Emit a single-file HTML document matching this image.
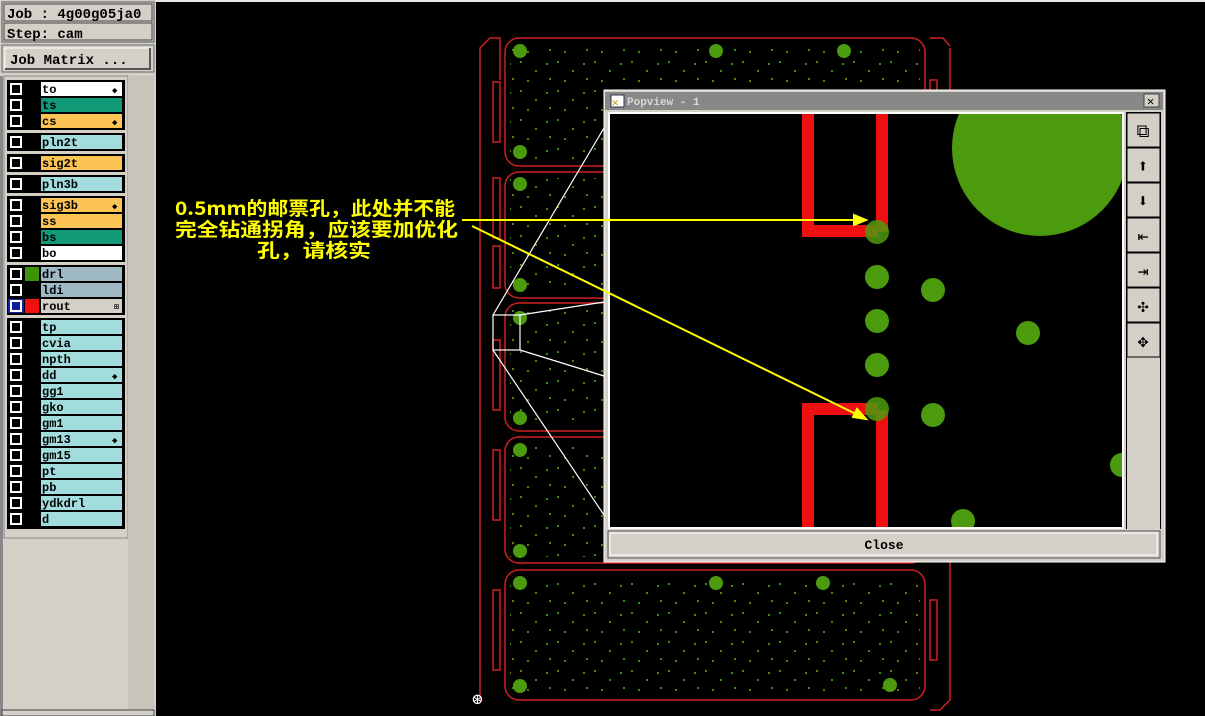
<!DOCTYPE html>
<html><head><meta charset="utf-8"><style>
html,body{margin:0;padding:0;background:#000;}
body{width:1205px;height:716px;overflow:hidden;position:relative;font-family:"Liberation Mono",monospace;}
svg{position:absolute;left:0;top:0}
</style></head><body>
<svg width="1205" height="716" xmlns="http://www.w3.org/2000/svg" font-family="Liberation Mono, monospace">
<defs>
<pattern id="dots" width="37" height="29" patternUnits="userSpaceOnUse">
<rect x="2" y="3" width="2" height="2" fill="#3f8a0a"/>
<rect x="17" y="12" width="2" height="2" fill="#3f8a0a"/>
<rect x="9" y="22" width="2" height="2" fill="#3f8a0a"/>
<rect x="28" y="5" width="2" height="2" fill="#3f8a0a"/>
<rect x="31" y="20" width="2" height="2" fill="#3f8a0a"/>
</pattern>
</defs>
<rect width="1205" height="716" fill="#000"/>
<rect x="0" y="0" width="1205" height="2" fill="#e8e8e8"/>
<!-- left panel -->
<rect x="0" y="0" width="156" height="716" fill="#d4d0c8"/>
<rect x="2" y="2" width="152" height="40" fill="#d4d0c8" stroke="#555" />
<rect x="4" y="4" width="148" height="17" fill="#d4d0c8" stroke="#444"/>
<text x="7" y="18" font-size="14" font-weight="bold" fill="#000">Job : 4g00g05ja0</text>
<rect x="4" y="23" width="148" height="17" fill="#d4d0c8" stroke="#444"/>
<text x="7" y="38" font-size="14" font-weight="bold" fill="#000">Step: cam</text>
<rect x="2" y="45" width="152" height="27" fill="#d4d0c8" stroke="#666"/>
<rect x="5" y="48" width="145" height="21" fill="#d4d0c8" stroke="#fff"/>
<path d="M150 48 V69 H5" stroke="#555" stroke-width="2" fill="none"/>
<text x="10" y="64" font-size="14" font-weight="bold">Job Matrix ...</text>
<rect x="4" y="76" width="124" height="462" fill="#d4d0c8" stroke="#888"/>
<rect x="128" y="76" width="26" height="640" fill="#c8c4bc"/>
<rect x="0" y="76" width="3" height="640" fill="#888"/>
<rect x="2" y="710" width="152" height="6" fill="#d4d0c8" stroke="#444"/>
<g>
<rect x="7" y="80" width="118" height="50" fill="#000"/>
<rect x="7" y="133" width="118" height="18" fill="#000"/>
<rect x="7" y="154" width="118" height="18" fill="#000"/>
<rect x="7" y="175" width="118" height="18" fill="#000"/>
<rect x="7" y="196" width="118" height="66" fill="#000"/>
<rect x="7" y="265" width="118" height="50" fill="#000"/>
<rect x="7" y="318" width="118" height="211" fill="#000"/>
</g>
<g font-size="12" font-weight="bold">
<rect x="41" y="82" width="81" height="14" fill="#fff"/>
<rect x="41" y="98" width="81" height="14" fill="#129a78"/>
<rect x="41" y="114" width="81" height="14" fill="#fcc454"/>
<rect x="41" y="135" width="81" height="14" fill="#a3dcdc"/>
<rect x="41" y="156" width="81" height="14" fill="#fcc454"/>
<rect x="41" y="177" width="81" height="14" fill="#a3dcdc"/>
<rect x="41" y="198" width="81" height="14" fill="#fcc454"/>
<rect x="41" y="214" width="81" height="14" fill="#fcc454"/>
<rect x="41" y="230" width="81" height="14" fill="#129a78"/>
<rect x="41" y="246" width="81" height="14" fill="#fff"/>
<rect x="41" y="267" width="81" height="14" fill="#9eb8c4"/>
<rect x="41" y="283" width="81" height="14" fill="#9eb8c4"/>
<rect x="41" y="299" width="81" height="14" fill="#d4d0c8"/>
<rect x="25" y="267" width="14" height="14" fill="#3c960a"/>
<rect x="25" y="299" width="14" height="14" fill="#f01010"/>
<rect x="8" y="299" width="16" height="14" fill="#1020a0"/>
<g fill="#a3dcdc">
<rect x="41" y="320" width="81" height="14"/><rect x="41" y="336" width="81" height="14"/><rect x="41" y="352" width="81" height="14"/><rect x="41" y="368" width="81" height="14"/><rect x="41" y="384" width="81" height="14"/><rect x="41" y="400" width="81" height="14"/><rect x="41" y="416" width="81" height="14"/><rect x="41" y="432" width="81" height="14"/><rect x="41" y="448" width="81" height="14"/><rect x="41" y="464" width="81" height="14"/><rect x="41" y="480" width="81" height="14"/><rect x="41" y="496" width="81" height="14"/><rect x="41" y="512" width="81" height="14"/>
</g>
<g fill="none" stroke="#fff" stroke-width="2">
<rect x="11" y="84" width="10" height="10"/><rect x="11" y="100" width="10" height="10"/><rect x="11" y="116" width="10" height="10"/>
<rect x="11" y="137" width="10" height="10"/><rect x="11" y="158" width="10" height="10"/><rect x="11" y="179" width="10" height="10"/>
<rect x="11" y="200" width="10" height="10"/><rect x="11" y="216" width="10" height="10"/><rect x="11" y="232" width="10" height="10"/><rect x="11" y="248" width="10" height="10"/>
<rect x="11" y="269" width="10" height="10"/><rect x="11" y="285" width="10" height="10"/><rect x="11" y="301" width="10" height="10"/>
<rect x="11" y="322" width="10" height="10"/><rect x="11" y="338" width="10" height="10"/><rect x="11" y="354" width="10" height="10"/><rect x="11" y="370" width="10" height="10"/><rect x="11" y="386" width="10" height="10"/><rect x="11" y="402" width="10" height="10"/><rect x="11" y="418" width="10" height="10"/><rect x="11" y="434" width="10" height="10"/><rect x="11" y="450" width="10" height="10"/><rect x="11" y="466" width="10" height="10"/><rect x="11" y="482" width="10" height="10"/><rect x="11" y="498" width="10" height="10"/><rect x="11" y="514" width="10" height="10"/>
</g>
<g fill="#000">
<text x="42" y="93">to</text><text x="42" y="109">ts</text><text x="42" y="125">cs</text>
<text x="42" y="146">pln2t</text><text x="42" y="167">sig2t</text><text x="42" y="188">pln3b</text>
<text x="42" y="209">sig3b</text><text x="42" y="225">ss</text><text x="42" y="241">bs</text><text x="42" y="257">bo</text>
<text x="42" y="278">drl</text><text x="42" y="294">ldi</text><text x="42" y="310">rout</text>
<text x="42" y="331">tp</text><text x="42" y="347">cvia</text><text x="42" y="363">npth</text><text x="42" y="379">dd</text><text x="42" y="395">gg1</text><text x="42" y="411">gko</text><text x="42" y="427">gm1</text><text x="42" y="443">gm13</text><text x="42" y="459">gm15</text><text x="42" y="475">pt</text><text x="42" y="491">pb</text><text x="42" y="507">ydkdrl</text><text x="42" y="523">d</text>
<text x="112" y="93" font-size="9">◆</text><text x="112" y="125" font-size="9">◆</text><text x="112" y="209" font-size="9">◆</text><text x="112" y="379" font-size="9">◆</text><text x="112" y="443" font-size="9">◆</text>
<text x="114" y="309" font-size="8">⊞</text>
</g>
</g>

<!-- PCB panel -->
<g fill="none" stroke="#d02020" stroke-width="1.5">
<path d="M480 700 V48 L490 38 H500 V80"/>
<path d="M950 48 V700 L940 710 H930"/>
<path d="M930 38 H943 L950 46"/>
<rect x="505" y="38" width="420" height="128" rx="14"/>
<rect x="505" y="172" width="420" height="126" rx="14"/>
<rect x="505" y="303" width="420" height="128" rx="14"/>
<rect x="505" y="437" width="420" height="126" rx="14"/>
<rect x="505" y="570" width="420" height="130" rx="14"/>
<rect x="493" y="82" width="7" height="60"/><rect x="493" y="178" width="7" height="60"/><rect x="493" y="246" width="7" height="42"/>
<rect x="493" y="340" width="7" height="70"/><rect x="493" y="450" width="7" height="70"/><rect x="493" y="590" width="7" height="80"/>
<rect x="930" y="80" width="7" height="60"/><rect x="930" y="600" width="7" height="60"/>
</g>
<g fill="url(#dots)">
<rect x="510" y="44" width="410" height="116"/><rect x="510" y="178" width="410" height="114"/><rect x="510" y="309" width="410" height="116"/><rect x="510" y="443" width="410" height="114"/><rect x="510" y="576" width="410" height="118"/>
</g>
<g fill="#4c9a0e">
<circle cx="520" cy="51" r="7"/><circle cx="716" cy="51" r="7"/><circle cx="844" cy="51" r="7"/><circle cx="520" cy="152" r="7"/>
<circle cx="520" cy="184" r="7"/><circle cx="520" cy="285" r="7"/>
<circle cx="520" cy="318" r="7"/><circle cx="520" cy="418" r="7"/>
<circle cx="520" cy="450" r="7"/><circle cx="520" cy="551" r="7"/>
<circle cx="520" cy="583" r="7"/><circle cx="716" cy="583" r="7"/><circle cx="823" cy="583" r="7"/><circle cx="520" cy="686" r="7"/><circle cx="890" cy="685" r="7"/>
</g>
<text x="472" y="705" fill="#fff" font-size="18">⊛</text>
<g stroke="#fff" stroke-width="1.2" fill="none">
<rect x="493" y="315" width="27" height="35"/>
<path d="M493 315 L604 128 M520 315 L604 302 M520 350 L604 376 M493 350 L604 515"/>
</g>

<!-- popup -->
<rect x="604" y="90" width="561" height="472" fill="#d4d0c8" stroke="#fff"/>
<rect x="605" y="92" width="558" height="18" fill="#888"/>
<rect x="611" y="95" width="13" height="12" fill="#fff" stroke="#335"/>
<text x="612" y="106" font-size="11" fill="#b0a000">✕</text>
<text x="627" y="105" font-size="11" font-weight="bold" fill="#d8d8d8">Popview - 1</text>
<rect x="1144" y="94" width="15" height="13" fill="#d4d0c8" stroke="#444"/>
<text x="1147" y="105" font-size="12">✕</text>
<rect x="608" y="112" width="516" height="417" fill="#fff"/>
<rect x="610" y="114" width="512" height="413" fill="#000"/>
<svg x="610" y="114" width="512" height="413">
<circle cx="430" cy="34" r="88" fill="#4c9a0e"/>
<g fill="#ee1010">
<rect x="192" y="0" width="12" height="123"/><rect x="192" y="111" width="76" height="12"/><rect x="266" y="0" width="12" height="118"/>
<rect x="192" y="289" width="76" height="12"/><rect x="192" y="289" width="12" height="124"/><rect x="266" y="296" width="12" height="117"/>
</g>
<g fill="#4c9a0e">
<circle cx="267" cy="118" r="12" opacity="0.85"/><circle cx="267" cy="163" r="12"/><circle cx="267" cy="207" r="12"/><circle cx="267" cy="251" r="12"/><circle cx="267" cy="295" r="12" opacity="0.85"/>
<circle cx="323" cy="176" r="12"/><circle cx="323" cy="301" r="12"/><circle cx="418" cy="219" r="12"/><circle cx="353" cy="407" r="12"/><circle cx="512" cy="351" r="12"/>
</g>
</svg>
<rect x="1126" y="112" width="35" height="417" fill="#000"/>
<rect x="1127" y="113" width="33" height="416" fill="#d4d0c8"/>
<g fill="#d4d0c8" stroke="#000">
<rect x="1127" y="113" width="33" height="34"/><rect x="1127" y="148" width="33" height="34"/><rect x="1127" y="183" width="33" height="34"/><rect x="1127" y="218" width="33" height="34"/><rect x="1127" y="253" width="33" height="34"/><rect x="1127" y="288" width="33" height="34"/><rect x="1127" y="323" width="33" height="34"/>
</g>
<g font-size="18" text-anchor="middle" fill="#000">
<text x="1143" y="137">⧉</text><text x="1143" y="172">⬆</text><text x="1143" y="207">⬇</text><text x="1143" y="242">⇤</text><text x="1143" y="277">⇥</text><text x="1143" y="312">✣</text><text x="1143" y="347">✥</text>
</g>
<rect x="608" y="531" width="552" height="27" fill="#d4d0c8" stroke="#555"/>
<rect x="610" y="533" width="547" height="22" fill="#d4d0c8" stroke="#fff"/>
<text x="884" y="549" font-size="13" font-weight="bold" text-anchor="middle">Close</text>

<!-- annotation -->
<g fill="#ffff00" font-family="'Noto Sans CJK SC', 'WenQuanYi Zen Hei', sans-serif" font-size="19" font-weight="bold">
<text x="175" y="215" textLength="280" lengthAdjust="spacingAndGlyphs">0.5mm的邮票孔，此处并不能</text>
<text x="175" y="236" textLength="283" lengthAdjust="spacingAndGlyphs">完全钻通拐角，应该要加优化</text>
<text x="257" y="257" textLength="114" lengthAdjust="spacingAndGlyphs">孔，请核实</text>
</g>
<g stroke="#ffff00" stroke-width="2" fill="#ffff00">
<line x1="462" y1="220" x2="858" y2="220"/>
<path d="M866 220 L854 215 L854 225 Z"/>
<line x1="472" y1="226" x2="858" y2="415"/>
<path d="M866 419 L853 417 L857 409 Z"/>
</g>
</svg>
</body></html>
